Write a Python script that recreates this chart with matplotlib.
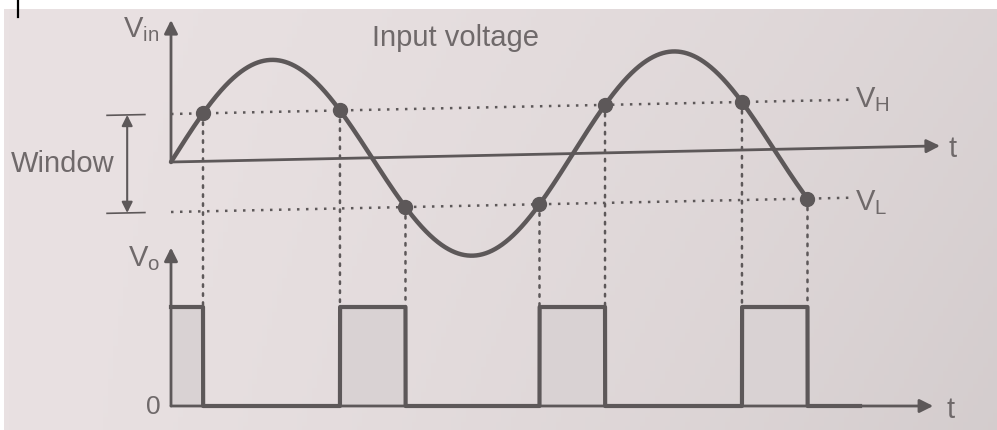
import numpy as np
import matplotlib.pyplot as plt
import matplotlib.transforms as mtransforms
from matplotlib.patches import ConnectionPatch

# window comparator: sine input (peak = 1, time in periods), thresholds and output
amplitude = 1.0
v_high = 0.48      # V_H
v_low = -0.50      # V_L
out_high = 1.0     # output level when V_L < Vin < V_H
t_out_end = 1.714  # output trace drawn up to here
t_axis_end = 1.913
t_out_axis_end = 1.896
t_dotted_end = 1.689

plt.rcParams['font.family'] = ['Liberation Sans', 'DejaVu Sans']
plt.rcParams['mathtext.fontset'] = 'custom'
plt.rcParams['mathtext.rm'] = 'Liberation Sans'

line_c = '#5d5859'
text_c = '#6f696a'
fill_c = '#d9d2d3'

fig = plt.figure(figsize=(9.97, 4.3), dpi=100)
fig.patch.set_facecolor('white')
ax = fig.add_axes([0, 0, 1, 1])

# paper background (photo of a page, darker towards the right)
gx, gy = np.meshgrid(np.linspace(0, 1, 200), np.linspace(0, 1, 100))
shade = 1 - 0.06 * gx ** 1.6 - 0.03 * gx * gy
paper = np.dstack([233 / 255 * shade, 225 / 255 * shade, 226 / 255 * shade])
ax.imshow(paper, extent=(4, 997, 430, 9), aspect='auto', zorder=0)

ax.set_xlim(0, 997)
ax.set_ylim(430, 0)
ax.set_autoscale_on(False)
ax.axis('off')

# upper panel is slightly tilted in the photo
up = mtransforms.Affine2D(np.array([[402, 0, 171], [-0.021 * 402, -100, 162], [0, 0, 1]])) + ax.transData
lo = mtransforms.Affine2D(np.array([[402, 0, 171], [0, -99, 406], [0, 0, 1]])) + ax.transData

# input and derived output
t = np.linspace(0, t_out_end, 20001)
vin = amplitude * np.sin(2 * np.pi * t)
inside = (vin > v_low) & (vin < v_high)
idx = np.nonzero(np.diff(inside.astype(int)))[0]
t_edges = t[idx]
v_dots = np.where(vin[idx] > 0, v_high, v_low)
t_stop = t_edges[-1]
vout = inside.astype(float) * out_high

# threshold lines
for lev in (v_high, v_low):
    ax.plot([0, t_dotted_end], [lev, lev], transform=up, color=line_c,
            lw=1.8, ls=(0, (1, 2.6)), zorder=2)

# sine
m = t <= t_stop
ax.plot(t[m], vin[m], transform=up, color=line_c, lw=3.2, zorder=4,
        solid_capstyle='round')
ax.plot(t_edges, v_dots, 'o', transform=up, color=line_c, ms=10, zorder=5)

# axes
arrow = dict(arrowstyle='-|>', color=line_c, lw=2, mutation_scale=20, shrinkA=0, shrinkB=0)
ax.annotate('', xy=(0, 1.42), xytext=(0, 0), xycoords=up, textcoords=up, arrowprops=arrow)
ax.annotate('', xy=(t_axis_end, 0), xytext=(0, 0), xycoords=up, textcoords=up, arrowprops=arrow)
ax.annotate('', xy=(0, 1.6), xytext=(0, 0), xycoords=lo, textcoords=lo, arrowprops=arrow)
ax.annotate('', xy=(t_out_axis_end, 0), xytext=(0, 0), xycoords=lo, textcoords=lo, arrowprops=arrow)

# output pulses
ax.fill_between(t, 0, vout, transform=lo, color=fill_c, lw=0, zorder=2)
ax.plot(t, vout, transform=lo, color=line_c, lw=3, zorder=4)

# projections from dots to the pulses
for te, vd in zip(t_edges, v_dots):
    con = ConnectionPatch(xyA=(te, vd), coordsA=up, xyB=(te, out_high), coordsB=lo,
                          color=line_c, lw=1.8, ls=(0, (1, 2.6)), zorder=2)
    ax.add_artist(con)

# window marker
t_win = -0.109
ax.annotate('', xy=(t_win, v_low), xytext=(t_win, v_high), xycoords=up, textcoords=up,
            arrowprops=dict(arrowstyle='<|-|>', color=line_c, lw=1.5,
                            mutation_scale=16, shrinkA=0, shrinkB=0))
for lev in (v_high, v_low):
    ax.plot([-0.159, -0.065], [lev, lev], transform=up, color=line_c, lw=1.2)

# labels
fs = 21
ax.text(455, 38, 'Input voltage', ha='center', va='center', fontsize=fs, color=text_c)
ax.text(159, 30, r'V$_{\rm in}$', ha='right', va='center', fontsize=fs, color=text_c)
ax.text(63, 164, 'Window', ha='center', va='center', fontsize=fs, color=text_c)
ax.text(855, 100, r'V$_{\rm H}$', ha='left', va='center', fontsize=fs, color=text_c)
ax.text(855, 203, r'V$_{\rm L}$', ha='left', va='center', fontsize=fs, color=text_c)
ax.text(948, 149, 't', ha='left', va='center', fontsize=fs, color=text_c)
ax.text(946, 410, 't', ha='left', va='center', fontsize=fs, color=text_c)
ax.text(160, 259, r'V$_{\rm o}$', ha='right', va='center', fontsize=fs, color=text_c)
ax.text(153, 407, '0', ha='center', va='center', fontsize=19, color=text_c)

# scan mark at the top edge
ax.plot([18, 18], [0, 17], color='black', lw=1.6)

fig.savefig('out.png', dpi=100)
